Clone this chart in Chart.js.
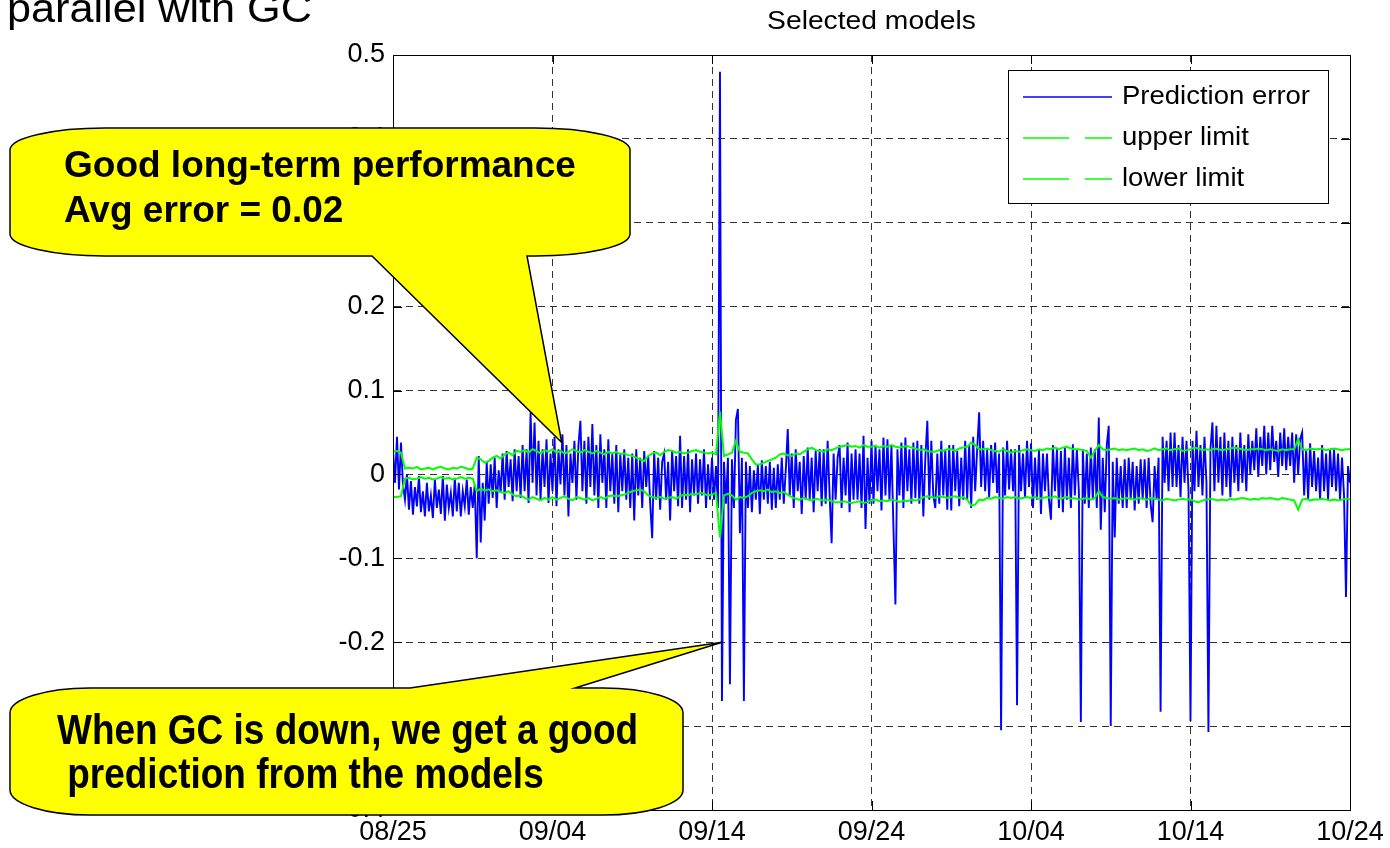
<!DOCTYPE html>
<html>
<head>
<meta charset="utf-8">
<title>Selected models</title>
<script src="https://cdn.jsdelivr.net/npm/chart.js@4.4.1/dist/chart.umd.min.js"></script>
<style>
  html, body { margin: 0; padding: 0; background: #fff; }
  #wrap { width: 1390px; height: 848px; }
</style>
</head>
<body>
<div id="wrap"><canvas id="chart" width="1390" height="848"></canvas></div>
<script>
// x axis runs in days from 08/25; error sampled every 3 h, limits every 6 h
const dayLabels = ["08/25", "09/04", "09/14", "09/24", "10/04", "10/14", "10/24"];
const labelStepDays = 10;
const errorPerDay = 8;
const limitPerDay = 4;

const predictionError = [
  0.03, -0.01, 0.045, -0.018, 0.038, -0.012, -0.03, 0.0,
  -0.042, -0.008, -0.048, -0.015, -0.038, -0.002, -0.045, -0.02,
  -0.05, -0.01, -0.044, -0.025, -0.052, -0.006, -0.04, -0.018,
  -0.047, -0.002, -0.055, -0.012, -0.04, -0.022, -0.05, -0.004,
  -0.044, -0.01, -0.05, -0.02, -0.038, -0.006, -0.048, -0.015,
  -0.04, -0.012, -0.1, 0.022, -0.081, -0.01, -0.055, 0.015,
  -0.035, 0.012, -0.028, 0.02, -0.04, 0.005, -0.022, 0.025,
  -0.03, 0.028, -0.015, 0.018, -0.032, 0.03, -0.02, 0.022,
  -0.028, 0.035, -0.02, 0.03, -0.034, 0.074, -0.01, 0.062,
  -0.025, 0.04, -0.03, 0.03, -0.015, 0.042, -0.034, 0.025,
  -0.02, 0.045, -0.038, 0.03, -0.012, 0.048, -0.025, 0.035,
  -0.05, 0.025, -0.01, 0.04, -0.03, 0.035, 0.064, -0.02,
  0.04, -0.035, 0.045, -0.015, 0.06, -0.025, 0.035, -0.04,
  0.048, -0.01, 0.03, -0.04, 0.042, -0.02, 0.025, -0.035,
  0.035, -0.045, 0.025, -0.02, 0.03, -0.03, 0.02, -0.04,
  0.025, -0.055, 0.03, -0.025, 0.02, -0.04, 0.028, -0.015,
  0.022, -0.035, -0.076, 0.028, -0.03, 0.02, -0.042, 0.015,
  0.025, -0.03, 0.015, -0.055, 0.029, -0.02, 0.022, -0.038,
  0.046, -0.04, 0.022, -0.03, 0.03, -0.045, 0.018, -0.025,
  0.025, -0.035, 0.018, -0.025, 0.03, -0.04, 0.012, -0.03,
  0.02, -0.03, 0.01, -0.04, 0.48, -0.27, 0.015, -0.035,
  0.02, -0.25, 0.018, -0.04, 0.065, 0.078, -0.07, 0.02,
  -0.27, 0.015, -0.04, 0.01, -0.045, 0.005, -0.03, 0.012,
  -0.047, 0.017, -0.03, 0.01, -0.035, 0.015, -0.042, 0.008,
  -0.04, 0.012, -0.03, 0.02, -0.035, 0.005, 0.054, -0.025,
  0.025, -0.04, 0.03, -0.02, 0.015, -0.047, 0.022, -0.03,
  0.032, -0.03, 0.02, -0.045, 0.028, -0.02, 0.03, -0.038,
  0.03, -0.035, 0.04, -0.025, -0.082, 0.025, -0.03, 0.02,
  0.035, -0.04, 0.02, -0.025, 0.038, -0.045, 0.025, -0.03,
  0.03, -0.03, 0.025, -0.04, 0.046, -0.065, 0.02, -0.035,
  0.04, -0.035, 0.035, -0.02, 0.03, -0.043, 0.044, -0.025,
  0.042, -0.03, 0.035, -0.063, -0.155, 0.03, -0.025, 0.038,
  -0.04, 0.044, -0.02, 0.03, -0.035, 0.038, -0.028, 0.04,
  -0.035, 0.035, -0.05, 0.02, 0.064, -0.03, 0.04, -0.025,
  -0.04, 0.025, -0.035, 0.04, -0.025, 0.03, -0.042, 0.035,
  -0.043, 0.035, -0.02, 0.028, -0.038, 0.02, -0.03, 0.04,
  -0.03, 0.035, -0.04, 0.045, -0.02, 0.03, 0.074, -0.015,
  0.04, -0.02, 0.03, -0.027, 0.035, -0.01, 0.038, -0.022,
  0.025, -0.305, 0.032, -0.025, 0.04, -0.018, 0.03, -0.02,
  0.03, -0.275, 0.035, -0.02, 0.025, -0.027, 0.04, -0.015,
  0.037, -0.04, 0.02, -0.03, 0.03, -0.047, 0.025, -0.02,
  0.025, -0.03, -0.054, 0.035, -0.02, 0.03, -0.04, 0.028,
  -0.045, 0.032, -0.03, 0.02, -0.04, 0.036, -0.025, 0.03,
  -0.02, -0.295, 0.03, -0.035, 0.025, -0.04, 0.032, -0.03,
  0.03, -0.04, 0.068, -0.066, 0.02, -0.045, 0.035, 0.058,
  -0.3, 0.015, -0.075, 0.02, -0.035, 0.01, -0.04, 0.018,
  -0.04, 0.02, -0.03, 0.015, -0.043, 0.01, -0.035, 0.018,
  -0.03, 0.018, -0.04, 0.02, -0.035, -0.057, 0.01, -0.03,
  0.02, -0.283, 0.045, -0.01, 0.04, -0.02, 0.05, -0.015,
  0.05, -0.015, 0.035, -0.027, 0.045, -0.01, 0.04, -0.02,
  -0.294, 0.04, -0.02, 0.052, -0.015, 0.035, -0.025, 0.045,
  -0.01, -0.307, 0.03, 0.062, -0.02, 0.058, -0.01, 0.045,
  -0.025, 0.05, -0.015, 0.04, -0.027, 0.045, -0.01, 0.035,
  -0.02, 0.05, -0.01, 0.035, -0.02, 0.048, 0.0, 0.04,
  0.005, 0.055, -0.003, 0.045, 0.01, 0.058, 0.0, 0.05,
  0.005, 0.058, 0.015, 0.04, -0.003, 0.05, 0.01, 0.055,
  0.005, 0.045, 0.01, 0.05, -0.01, 0.048, 0.0, 0.042,
  0.05, -0.025, 0.03, -0.03, 0.037, -0.015, 0.028, -0.02,
  0.02, -0.03, 0.035, -0.02, 0.025, -0.03, 0.03, -0.015,
  0.03, -0.02, 0.025, -0.03, 0.02, -0.025, -0.146, 0.01,
  -0.01
];

const upperLimit = [
  0.028, 0.028, 0.026, 0.007,
  0.008, 0.007, 0.009, 0.006,
  0.007, 0.008, 0.006, 0.008,
  0.009, 0.007, 0.006, 0.008,
  0.007, 0.009, 0.008, 0.006,
  0.007, 0.02, 0.018, 0.014,
  0.016, 0.02, 0.022, 0.019,
  0.024, 0.026, 0.023, 0.028,
  0.027, 0.029, 0.026, 0.03,
  0.028, 0.025, 0.029, 0.027,
  0.03, 0.026, 0.028, 0.025,
  0.027, 0.03, 0.028, 0.026,
  0.029, 0.027, 0.025, 0.028,
  0.026, 0.024, 0.027, 0.025,
  0.027, 0.024, 0.025, 0.023,
  0.022, 0.02, 0.018, 0.016,
  0.022, 0.025, 0.026, 0.023,
  0.027, 0.029, 0.028, 0.026,
  0.027, 0.025, 0.026, 0.028,
  0.029, 0.027, 0.026, 0.025,
  0.026, 0.024, 0.075, 0.022,
  0.024, 0.026, 0.04, 0.027,
  0.026, 0.025, 0.018, 0.012,
  0.012, 0.014, 0.016, 0.018,
  0.02, 0.024, 0.025, 0.023,
  0.022, 0.025, 0.024, 0.027,
  0.03, 0.032, 0.029, 0.028,
  0.027, 0.03, 0.029, 0.031,
  0.033, 0.034, 0.035, 0.033,
  0.034, 0.032, 0.035, 0.033,
  0.033, 0.034, 0.032, 0.034,
  0.033, 0.035, 0.033, 0.032,
  0.033, 0.034, 0.032, 0.031,
  0.029, 0.03, 0.028, 0.027,
  0.027, 0.029, 0.028, 0.03,
  0.03, 0.028, 0.031, 0.032,
  0.033, 0.038, 0.035, 0.03,
  0.03, 0.031, 0.029, 0.028,
  0.027, 0.03, 0.028, 0.026,
  0.028, 0.027, 0.029, 0.03,
  0.029, 0.028, 0.03, 0.029,
  0.031, 0.03, 0.032, 0.03,
  0.032, 0.033, 0.031, 0.03,
  0.03, 0.029, 0.028, 0.02,
  0.028, 0.035, 0.03, 0.029,
  0.03, 0.031, 0.029, 0.03,
  0.029, 0.03, 0.031, 0.029,
  0.03, 0.028, 0.029, 0.031,
  0.029, 0.03, 0.031, 0.029,
  0.03, 0.031, 0.028, 0.029,
  0.03, 0.032, 0.031, 0.029,
  0.03, 0.029, 0.031, 0.03,
  0.029, 0.03, 0.031, 0.032,
  0.031, 0.03, 0.029, 0.03,
  0.03, 0.031, 0.03, 0.029,
  0.03, 0.029, 0.028, 0.03,
  0.029, 0.03, 0.03, 0.042,
  0.03, 0.029, 0.031, 0.03,
  0.03, 0.031, 0.029, 0.03,
  0.031, 0.03, 0.029, 0.03,
  0.03
];

const lowerLimit = [
  -0.027, -0.027, -0.026, -0.005,
  -0.004, -0.006, -0.005, -0.003,
  -0.005, -0.004, -0.006, -0.005,
  -0.003, -0.005, -0.004, -0.006,
  -0.005, -0.003, -0.005, -0.004,
  -0.005, -0.02, -0.017, -0.019,
  -0.018, -0.02, -0.019, -0.021,
  -0.022, -0.02, -0.024, -0.026,
  -0.025, -0.028, -0.03, -0.027,
  -0.029, -0.031, -0.028, -0.03,
  -0.027, -0.03, -0.028, -0.026,
  -0.029, -0.031, -0.027, -0.028,
  -0.03, -0.028, -0.031, -0.029,
  -0.027, -0.029, -0.026, -0.025,
  -0.026, -0.025, -0.024, -0.022,
  -0.02, -0.019, -0.018, -0.02,
  -0.025, -0.027, -0.028, -0.027,
  -0.029, -0.028, -0.027, -0.029,
  -0.026, -0.024, -0.025, -0.023,
  -0.024, -0.022, -0.023, -0.025,
  -0.024, -0.022, -0.075, -0.025,
  -0.023, -0.025, -0.03, -0.027,
  -0.028, -0.026, -0.022, -0.02,
  -0.019, -0.02, -0.018, -0.021,
  -0.02, -0.022, -0.021, -0.024,
  -0.027, -0.029, -0.03, -0.028,
  -0.03, -0.031, -0.029, -0.03,
  -0.031, -0.03, -0.032, -0.033,
  -0.033, -0.032, -0.033, -0.034,
  -0.033, -0.032, -0.034, -0.033,
  -0.031, -0.03, -0.032, -0.031,
  -0.032, -0.03, -0.031, -0.033,
  -0.031, -0.032, -0.03, -0.031,
  -0.03, -0.027, -0.026, -0.027,
  -0.028, -0.026, -0.027, -0.028,
  -0.027, -0.026, -0.028, -0.027,
  -0.03, -0.037, -0.036, -0.03,
  -0.031, -0.028, -0.029, -0.027,
  -0.028, -0.029, -0.027, -0.028,
  -0.027, -0.029, -0.028, -0.027,
  -0.028, -0.027, -0.029, -0.028,
  -0.027, -0.028, -0.026, -0.029,
  -0.028, -0.027, -0.029, -0.028,
  -0.03, -0.029, -0.028, -0.03,
  -0.028, -0.02, -0.027, -0.028,
  -0.029, -0.028, -0.03, -0.029,
  -0.028, -0.029, -0.03, -0.028,
  -0.029, -0.03, -0.028, -0.029,
  -0.03, -0.031, -0.029, -0.03,
  -0.031, -0.03, -0.029, -0.03,
  -0.03, -0.032, -0.033, -0.031,
  -0.03, -0.029, -0.03, -0.031,
  -0.03, -0.031, -0.029, -0.03,
  -0.029, -0.028, -0.029, -0.03,
  -0.029, -0.03, -0.028, -0.029,
  -0.028, -0.029, -0.03, -0.028,
  -0.029, -0.03, -0.031, -0.042,
  -0.03, -0.029, -0.031, -0.03,
  -0.03, -0.029, -0.03, -0.031,
  -0.03, -0.031, -0.03, -0.029,
  -0.03
];

// speech bubbles: box in px, tail tip anchored in data units (day, error)
const callouts = [
  {
    lines: ["Good long-term performance", "Avg error = 0.02"],
    font: "bold 37px", scaleX: 1, textX: 64, lineY: [167, 212],
    box: {l: 10, t: 128, r: 630, b: 256, rx: 95, ry: 22},
    tail: {side: "bottom", x1: 372, x2: 527, day: 10.58, value: 0.038}
  },
  {
    lines: ["When GC is down, we get a good", " prediction from the models"],
    font: "bold 42px", scaleX: 0.88, textX: 57, lineY: [732, 776],
    box: {l: 10, t: 688, r: 683, b: 815, rx: 80, ry: 25},
    tail: {side: "top", x1: 410, x2: 575, day: 20.63, value: -0.2}
  }
];

const FONT = "'Liberation Sans', Arial, Helvetica, sans-serif";

function drawText(ctx, text, x, y, font, scaleX, align, baseline) {
  ctx.save();
  ctx.font = font + " " + FONT;
  ctx.fillStyle = "#000";
  ctx.textBaseline = baseline || "middle";
  ctx.textAlign = align || "left";
  ctx.translate(x, y);
  ctx.scale(scaleX, 1);
  ctx.fillText(text, 0, 0);
  ctx.restore();
}

function calloutPath(ctx, b, tail, tip) {
  const k = 0.5523;
  const {l, t, r, rx, ry} = b;
  const bt = b.b;
  ctx.beginPath();
  ctx.moveTo(l + rx, t);
  if (tail.side === "top") {
    ctx.lineTo(tail.x1, t);
    ctx.lineTo(tip.x, tip.y);
    ctx.lineTo(tail.x2, t);
  }
  ctx.lineTo(r - rx, t);
  ctx.bezierCurveTo(r - rx + rx * k, t, r, t + ry - ry * k, r, t + ry);
  ctx.lineTo(r, bt - ry);
  ctx.bezierCurveTo(r, bt - ry + ry * k, r - rx + rx * k, bt, r - rx, bt);
  if (tail.side === "bottom") {
    ctx.lineTo(tail.x2, bt);
    ctx.lineTo(tip.x, tip.y);
    ctx.lineTo(tail.x1, bt);
  }
  ctx.lineTo(l + rx, bt);
  ctx.bezierCurveTo(l + rx - rx * k, bt, l, bt - ry + ry * k, l, bt - ry);
  ctx.lineTo(l, t + ry);
  ctx.bezierCurveTo(l, t + ry - ry * k, l + rx - rx * k, t, l + rx, t);
  ctx.closePath();
}

const matlabFrame = {
  id: "matlabFrame",
  afterDatasetsDraw(chart) {
    const {ctx, chartArea: a, scales: {x, y}} = chart;
    ctx.save();
    ctx.strokeStyle = "#000";
    ctx.lineWidth = 1;
    ctx.beginPath();
    // inward tick marks on all four sides
    x.ticks.forEach(t => {
      const px = Math.round(x.getPixelForValue(t.value)) + 0.5;
      ctx.moveTo(px, a.bottom); ctx.lineTo(px, a.bottom - 9);
      ctx.moveTo(px, a.top); ctx.lineTo(px, a.top + 9);
    });
    y.ticks.forEach(t => {
      const py = Math.round(y.getPixelForValue(t.value)) + 0.5;
      ctx.moveTo(a.left, py); ctx.lineTo(a.left + 9, py);
      ctx.moveTo(a.right, py); ctx.lineTo(a.right - 9, py);
    });
    ctx.stroke();
    ctx.strokeRect(Math.round(a.left) + 0.5, Math.round(a.top) + 0.5,
      Math.round(a.right - a.left), Math.round(a.bottom - a.top));
    ctx.restore();
  },
  afterDraw(chart) {
    const {ctx, chartArea: a, scales: {x, y}} = chart;

    drawText(ctx, "parallel with GC", 7, 22, "40px", 1.08, "left", "alphabetic");
    drawText(ctx, "Selected models", (a.left + a.right) / 2, 22, "25px", 1.13, "center");

    // legend box
    const lg = {l: 1008.5, t: 70.5, r: 1328.5, b: 203.5};
    const rowY = [97, 138, 179];
    const legendDash = [[], [46, 16], [46, 16]];
    ctx.save();
    ctx.fillStyle = "#fff";
    ctx.fillRect(lg.l, lg.t, lg.r - lg.l, lg.b - lg.t);
    ctx.strokeStyle = "#000";
    ctx.lineWidth = 1;
    ctx.strokeRect(lg.l, lg.t, lg.r - lg.l, lg.b - lg.t);
    chart.data.datasets.forEach((ds, i) => {
      ctx.save();
      ctx.beginPath();
      ctx.setLineDash(legendDash[i]);
      ctx.strokeStyle = ds.borderColor;
      ctx.lineWidth = 1.5;
      ctx.moveTo(1023, rowY[i]);
      ctx.lineTo(1112, rowY[i]);
      ctx.stroke();
      ctx.restore();
      drawText(ctx, ds.label, 1122, rowY[i], "25px", 1.1);
    });
    ctx.restore();

    // callouts sit over everything, tick labels included
    callouts.forEach(c => {
      const tip = {x: x.getPixelForValue(c.tail.day), y: y.getPixelForValue(c.tail.value)};
      ctx.save();
      calloutPath(ctx, c.box, c.tail, tip);
      ctx.fillStyle = "#ffff00";
      ctx.fill();
      ctx.strokeStyle = "#000";
      ctx.lineWidth = 1.5;
      ctx.stroke();
      ctx.restore();
      c.lines.forEach((line, i) => drawText(ctx, line, c.textX, c.lineY[i], c.font, c.scaleX));
    });
  }
};

const toPoints = (values, perDay) => values.map((v, i) => ({x: i / perDay, y: v}));

new Chart(document.getElementById("chart"), {
  type: "line",
  data: {
    datasets: [
      {
        label: "Prediction error",
        data: toPoints(predictionError, errorPerDay),
        borderColor: "#0000ff",
        borderWidth: 1.9,
        order: 1
      },
      {
        label: "upper limit",
        data: toPoints(upperLimit, limitPerDay),
        borderColor: "#00ff00",
        borderWidth: 2,
        order: 0
      },
      {
        label: "lower limit",
        data: toPoints(lowerLimit, limitPerDay),
        borderColor: "#00ff00",
        borderWidth: 2,
        order: 0
      }
    ]
  },
  options: {
    responsive: false,
    animation: false,
    events: [],
    elements: {
      point: {radius: 0},
      line: {tension: 0, fill: false}
    },
    layout: {padding: {left: 0, top: 55, right: 40, bottom: 0}},
    plugins: {
      legend: {display: false},
      title: {display: false},
      tooltip: {enabled: false}
    },
    scales: {
      x: {
        type: "linear",
        min: 0,
        max: 60,
        afterFit(scale) { scale.height = 38; },
        ticks: {
          stepSize: labelStepDays,
          autoSkip: false,
          maxRotation: 0,
          padding: 6,
          color: "#000",
          font: {family: FONT, size: 27},
          callback: v => dayLabels[Math.round(v / labelStepDays)]
        },
        grid: {color: "rgba(0,0,0,0.8)", lineWidth: 1, drawTicks: false},
        border: {display: true, color: "#000", dash: [7, 5]}
      },
      y: {
        min: -0.4,
        max: 0.5,
        afterFit(scale) { scale.width = 393; },
        ticks: {
          stepSize: 0.1,
          padding: 8,
          color: "#000",
          font: {family: FONT, size: 27},
          callback: v => String(Math.round(v * 10) / 10)
        },
        grid: {color: "rgba(0,0,0,0.8)", lineWidth: 1, drawTicks: false},
        border: {display: true, color: "#000", dash: [7, 5]}
      }
    }
  },
  plugins: [matlabFrame]
});
</script>
</body>
</html>
